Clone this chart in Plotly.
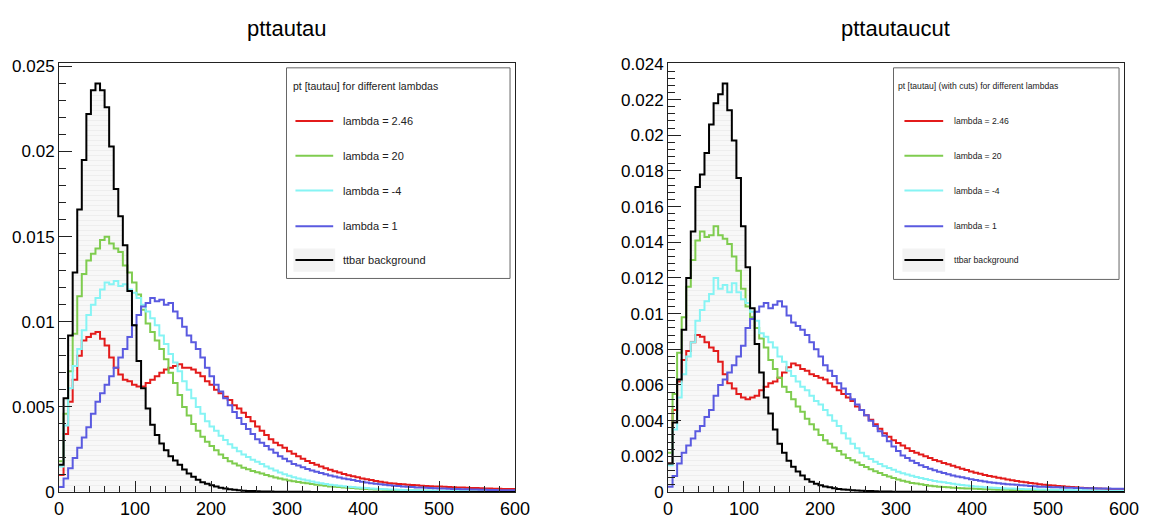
import plotly.graph_objects as go

# ---------------- data ----------------
bin_edges = list(range(0, 601, 6))          # 100 bins of 6 GeV, 0..600
x_tick_vals = [0, 100, 200, 300, 400, 500, 600]
panel_titles = ["pttautau", "pttautaucut"]
legend_headers = ["pt [tautau] for different lambdas",
                  "pt [tautau] (with cuts) for different lambdas"]
series_names = ["lambda = 2.46", "lambda = 20", "lambda = -4", "lambda = 1", "ttbar background"]
series_colors = ["#e31b1b", "#7fcc4f", "#86f4f4", "#5a5ae0", "#000000"]

left_lambda_246 = [
    1.0e-3, 3.4e-3, 5.3e-3, 6.6e-3, 8.0e-3, 8.9e-3, 9.1e-3, 9.3e-3, 9.4e-3, 9.0e-3,
    8.6e-3, 7.9e-3, 7.3e-3, 6.9e-3, 6.6e-3, 6.5e-3, 6.3e-3, 6.2e-3, 6.2e-3, 6.4e-3,
    6.6e-3, 6.8e-3, 7.0e-3, 7.2e-3, 7.3e-3, 7.4e-3, 7.5e-3, 7.3e-3, 7.3e-3, 7.2e-3,
    7.0e-3, 6.8e-3, 6.5e-3, 6.3e-3, 6.0e-3, 5.8e-3, 5.6e-3, 5.4e-3, 5.1e-3, 4.9e-3,
    4.65e-3, 4.4e-3, 4.15e-3, 3.85e-3, 3.6e-3, 3.35e-3, 3.1e-3, 2.9e-3, 2.75e-3, 2.6e-3,
    2.4e-3, 2.25e-3, 2.1e-3, 1.95e-3, 1.82e-3, 1.7e-3, 1.6e-3, 1.5e-3, 1.4e-3, 1.3e-3,
    1.22e-3, 1.14e-3, 1.06e-3, 0.98e-3, 0.92e-3, 0.86e-3, 0.8e-3, 0.75e-3, 0.7e-3, 0.65e-3,
    0.6e-3, 0.56e-3, 0.52e-3, 0.5e-3, 0.47e-3, 0.45e-3, 0.43e-3, 0.41e-3, 0.39e-3, 0.37e-3,
    0.35e-3, 0.34e-3, 0.33e-3, 0.32e-3, 0.31e-3, 0.3e-3, 0.28e-3, 0.27e-3, 0.26e-3, 0.25e-3,
    0.24e-3, 0.23e-3, 0.22e-3, 0.21e-3, 0.2e-3, 0.19e-3, 0.185e-3, 0.18e-3, 0.175e-3, 0.17e-3,
]
left_lambda_20 = [
    1.8e-3, 4.6e-3, 7.1e-3, 9.3e-3, 11.5e-3, 12.8e-3, 13.6e-3, 14.0e-3, 14.3e-3, 14.8e-3,
    15.0e-3, 14.6e-3, 14.3e-3, 14.1e-3, 13.3e-3, 12.9e-3, 12.3e-3, 11.6e-3, 10.7e-3, 9.9e-3,
    9.4e-3, 8.9e-3, 8.4e-3, 7.8e-3, 7.0e-3, 6.4e-3, 5.7e-3, 5.0e-3, 4.5e-3, 4.0e-3,
    3.6e-3, 3.25e-3, 2.95e-3, 2.7e-3, 2.45e-3, 2.2e-3, 2.0e-3, 1.8e-3, 1.68e-3, 1.55e-3,
    1.43e-3, 1.33e-3, 1.23e-3, 1.16e-3, 1.08e-3, 1.0e-3, 0.92e-3, 0.85e-3, 0.79e-3, 0.73e-3,
    0.67e-3, 0.63e-3, 0.59e-3, 0.55e-3, 0.51e-3, 0.47e-3, 0.43e-3, 0.4e-3, 0.36e-3, 0.33e-3,
    0.31e-3, 0.29e-3, 0.27e-3, 0.25e-3, 0.23e-3, 0.21e-3, 0.19e-3, 0.17e-3, 0.16e-3, 0.15e-3,
    0.14e-3, 0.13e-3, 0.12e-3, 0.11e-3, 0.105e-3, 0.1e-3, 0.095e-3, 0.09e-3, 0.085e-3, 0.08e-3,
    0.075e-3, 0.07e-3, 0.065e-3, 0.06e-3, 0.057e-3, 0.054e-3, 0.05e-3, 0.047e-3, 0.044e-3, 0.041e-3,
    0.039e-3, 0.037e-3, 0.035e-3, 0.033e-3, 0.031e-3, 0.03e-3, 0.028e-3, 0.027e-3, 0.025e-3, 0.024e-3,
]
left_lambda_m4 = [
    1.5e-3, 3.9e-3, 6.1e-3, 7.4e-3, 8.4e-3, 9.5e-3, 10.4e-3, 11.0e-3, 11.4e-3, 11.9e-3,
    12.3e-3, 12.2e-3, 12.4e-3, 12.1e-3, 12.2e-3, 11.9e-3, 11.7e-3, 11.4e-3, 11.0e-3, 10.6e-3,
    10.2e-3, 9.8e-3, 9.2e-3, 8.7e-3, 8.1e-3, 7.6e-3, 7.1e-3, 6.5e-3, 6.0e-3, 5.5e-3,
    5.0e-3, 4.6e-3, 4.15e-3, 3.85e-3, 3.6e-3, 3.3e-3, 3.05e-3, 2.8e-3, 2.6e-3, 2.4e-3,
    2.2e-3, 2.05e-3, 1.9e-3, 1.78e-3, 1.65e-3, 1.5e-3, 1.38e-3, 1.27e-3, 1.15e-3, 1.05e-3,
    0.95e-3, 0.87e-3, 0.8e-3, 0.73e-3, 0.67e-3, 0.61e-3, 0.56e-3, 0.52e-3, 0.47e-3, 0.43e-3,
    0.4e-3, 0.37e-3, 0.34e-3, 0.31e-3, 0.29e-3, 0.27e-3, 0.25e-3, 0.23e-3, 0.21e-3, 0.195e-3,
    0.18e-3, 0.165e-3, 0.15e-3, 0.14e-3, 0.13e-3, 0.12e-3, 0.11e-3, 0.105e-3, 0.1e-3, 0.095e-3,
    0.09e-3, 0.085e-3, 0.08e-3, 0.075e-3, 0.07e-3, 0.066e-3, 0.062e-3, 0.058e-3, 0.055e-3, 0.052e-3,
    0.049e-3, 0.046e-3, 0.044e-3, 0.041e-3, 0.039e-3, 0.037e-3, 0.035e-3, 0.033e-3, 0.031e-3, 0.03e-3,
]
left_lambda_1 = [
    0.3e-3, 0.8e-3, 1.4e-3, 2.0e-3, 2.6e-3, 3.2e-3, 3.8e-3, 4.6e-3, 5.3e-3, 5.8e-3,
    6.3e-3, 6.8e-3, 7.3e-3, 7.9e-3, 8.4e-3, 9.1e-3, 9.8e-3, 10.4e-3, 10.9e-3, 11.1e-3,
    11.4e-3, 11.2e-3, 11.3e-3, 11.0e-3, 11.1e-3, 10.6e-3, 10.2e-3, 9.7e-3, 9.2e-3, 8.8e-3,
    8.4e-3, 7.9e-3, 7.3e-3, 6.8e-3, 6.3e-3, 5.9e-3, 5.5e-3, 5.1e-3, 4.7e-3, 4.35e-3,
    4.0e-3, 3.7e-3, 3.4e-3, 3.1e-3, 2.9e-3, 2.7e-3, 2.5e-3, 2.3e-3, 2.1e-3, 1.95e-3,
    1.8e-3, 1.65e-3, 1.55e-3, 1.45e-3, 1.35e-3, 1.27e-3, 1.19e-3, 1.11e-3, 1.04e-3, 0.97e-3,
    0.91e-3, 0.85e-3, 0.8e-3, 0.75e-3, 0.7e-3, 0.65e-3, 0.6e-3, 0.56e-3, 0.52e-3, 0.48e-3,
    0.45e-3, 0.42e-3, 0.39e-3, 0.37e-3, 0.35e-3, 0.33e-3, 0.31e-3, 0.29e-3, 0.27e-3, 0.26e-3,
    0.245e-3, 0.23e-3, 0.22e-3, 0.21e-3, 0.2e-3, 0.19e-3, 0.18e-3, 0.17e-3, 0.16e-3, 0.155e-3,
    0.15e-3, 0.14e-3, 0.135e-3, 0.13e-3, 0.12e-3, 0.115e-3, 0.11e-3, 0.105e-3, 0.1e-3, 0.1e-3,
]
left_ttbar = [
    1.6e-3, 5.5e-3, 9.2e-3, 12.9e-3, 16.6e-3, 19.5e-3, 22.2e-3, 23.6e-3, 24.0e-3, 23.6e-3,
    22.6e-3, 20.3e-3, 17.8e-3, 16.2e-3, 14.5e-3, 11.8e-3, 9.8e-3, 7.7e-3, 6.1e-3, 4.9e-3,
    3.95e-3, 3.35e-3, 2.85e-3, 2.45e-3, 2.1e-3, 1.85e-3, 1.6e-3, 1.32e-3, 1.08e-3, 0.9e-3,
    0.72e-3, 0.58e-3, 0.48e-3, 0.4e-3, 0.32e-3, 0.25e-3, 0.2e-3, 0.16e-3, 0.13e-3, 0.1e-3,
    0.08e-3, 0.065e-3, 0.052e-3, 0.043e-3, 0.036e-3, 0.03e-3, 0.025e-3, 0.021e-3, 0.018e-3, 0.015e-3,
    0.013e-3, 0.012e-3, 0.01e-3, 0.009e-3, 0.008e-3, 0.007e-3, 0.007e-3, 0.006e-3, 0.005e-3, 0.005e-3,
    0.004e-3, 0.004e-3, 0.004e-3, 0.003e-3, 0.003e-3, 0.003e-3, 0.003e-3, 0.002e-3, 0.002e-3, 0.002e-3,
    0.002e-3, 0.002e-3, 0.002e-3, 0.001e-3, 0.001e-3, 0.001e-3, 0.001e-3, 0.001e-3, 0.001e-3, 0.001e-3,
    0.001e-3, 0.001e-3, 0.001e-3, 0.001e-3, 0.001e-3, 0.0, 0.0, 0.0, 0.0, 0.0,
    0.0, 0.0, 0.0, 0.0, 0.0, 0.0, 0.0, 0.0, 0.0, 0.0,
]

right_lambda_246 = [
    1.6e-3, 4.6e-3, 6.2e-3, 7.4e-3, 7.9e-3, 8.4e-3, 8.8e-3, 8.7e-3, 8.4e-3, 8.1e-3,
    7.9e-3, 7.3e-3, 6.6e-3, 6.1e-3, 5.8e-3, 5.5e-3, 5.3e-3, 5.2e-3, 5.3e-3, 5.4e-3,
    5.7e-3, 5.9e-3, 6.1e-3, 6.2e-3, 6.4e-3, 6.7e-3, 7.0e-3, 7.2e-3, 7.1e-3, 6.9e-3,
    6.8e-3, 6.6e-3, 6.5e-3, 6.4e-3, 6.3e-3, 6.1e-3, 5.9e-3, 5.7e-3, 5.5e-3, 5.3e-3,
    5.1e-3, 4.8e-3, 4.6e-3, 4.3e-3, 4.05e-3, 3.8e-3, 3.55e-3, 3.3e-3, 3.1e-3, 2.9e-3,
    2.75e-3, 2.6e-3, 2.45e-3, 2.3e-3, 2.2e-3, 2.1e-3, 2.0e-3, 1.9e-3, 1.8e-3, 1.72e-3,
    1.63e-3, 1.55e-3, 1.47e-3, 1.39e-3, 1.31e-3, 1.23e-3, 1.15e-3, 1.08e-3, 1.02e-3, 0.96e-3,
    0.9e-3, 0.85e-3, 0.8e-3, 0.75e-3, 0.7e-3, 0.66e-3, 0.62e-3, 0.58e-3, 0.54e-3, 0.5e-3,
    0.47e-3, 0.44e-3, 0.41e-3, 0.38e-3, 0.36e-3, 0.34e-3, 0.32e-3, 0.3e-3, 0.28e-3, 0.26e-3,
    0.24e-3, 0.22e-3, 0.21e-3, 0.2e-3, 0.19e-3, 0.18e-3, 0.17e-3, 0.16e-3, 0.15e-3, 0.14e-3,
]
right_lambda_20 = [
    2.2e-3, 5.5e-3, 7.8e-3, 9.8e-3, 11.5e-3, 13.0e-3, 14.1e-3, 14.6e-3, 14.3e-3, 14.4e-3,
    14.9e-3, 14.4e-3, 14.2e-3, 13.9e-3, 13.2e-3, 12.4e-3, 11.4e-3, 10.4e-3, 9.8e-3, 9.2e-3,
    8.6e-3, 8.1e-3, 7.4e-3, 6.9e-3, 6.4e-3, 5.9e-3, 5.6e-3, 5.2e-3, 4.8e-3, 4.5e-3,
    4.1e-3, 3.8e-3, 3.5e-3, 3.2e-3, 2.9e-3, 2.7e-3, 2.5e-3, 2.3e-3, 2.1e-3, 1.9e-3,
    1.78e-3, 1.65e-3, 1.52e-3, 1.4e-3, 1.28e-3, 1.17e-3, 1.06e-3, 0.96e-3, 0.87e-3, 0.78e-3,
    0.7e-3, 0.63e-3, 0.57e-3, 0.51e-3, 0.47e-3, 0.43e-3, 0.39e-3, 0.35e-3, 0.32e-3, 0.3e-3,
    0.28e-3, 0.26e-3, 0.24e-3, 0.23e-3, 0.21e-3, 0.2e-3, 0.19e-3, 0.18e-3, 0.17e-3, 0.16e-3,
    0.15e-3, 0.14e-3, 0.13e-3, 0.125e-3, 0.12e-3, 0.115e-3, 0.11e-3, 0.105e-3, 0.1e-3, 0.095e-3,
    0.09e-3, 0.087e-3, 0.084e-3, 0.08e-3, 0.077e-3, 0.074e-3, 0.07e-3, 0.067e-3, 0.064e-3, 0.061e-3,
    0.058e-3, 0.055e-3, 0.052e-3, 0.05e-3, 0.048e-3, 0.046e-3, 0.044e-3, 0.042e-3, 0.04e-3, 0.038e-3,
]
right_lambda_m4 = [
    1.5e-3, 3.5e-3, 5.3e-3, 6.6e-3, 7.6e-3, 8.4e-3, 9.6e-3, 10.2e-3, 10.7e-3, 11.1e-3,
    12.0e-3, 11.4e-3, 11.6e-3, 11.2e-3, 11.7e-3, 11.2e-3, 10.8e-3, 10.6e-3, 10.1e-3, 9.6e-3,
    8.9e-3, 8.7e-3, 8.4e-3, 8.1e-3, 7.6e-3, 7.3e-3, 6.8e-3, 6.5e-3, 6.2e-3, 5.9e-3,
    5.7e-3, 5.4e-3, 5.1e-3, 4.9e-3, 4.6e-3, 4.3e-3, 4.0e-3, 3.7e-3, 3.3e-3, 3.0e-3,
    2.7e-3, 2.45e-3, 2.2e-3, 2.0e-3, 1.85e-3, 1.7e-3, 1.57e-3, 1.45e-3, 1.35e-3, 1.25e-3,
    1.14e-3, 1.05e-3, 0.98e-3, 0.91e-3, 0.84e-3, 0.78e-3, 0.73e-3, 0.67e-3, 0.62e-3, 0.58e-3,
    0.54e-3, 0.5e-3, 0.46e-3, 0.42e-3, 0.39e-3, 0.36e-3, 0.33e-3, 0.31e-3, 0.29e-3, 0.27e-3,
    0.25e-3, 0.24e-3, 0.22e-3, 0.21e-3, 0.2e-3, 0.19e-3, 0.18e-3, 0.17e-3, 0.16e-3, 0.155e-3,
    0.15e-3, 0.14e-3, 0.135e-3, 0.13e-3, 0.125e-3, 0.12e-3, 0.115e-3, 0.11e-3, 0.106e-3, 0.102e-3,
    0.098e-3, 0.095e-3, 0.09e-3, 0.087e-3, 0.084e-3, 0.08e-3, 0.077e-3, 0.074e-3, 0.072e-3, 0.07e-3,
]
right_lambda_1 = [
    0.3e-3, 0.9e-3, 1.6e-3, 2.2e-3, 2.6e-3, 3.0e-3, 3.4e-3, 3.7e-3, 4.2e-3, 4.6e-3,
    5.4e-3, 6.0e-3, 6.3e-3, 6.7e-3, 7.1e-3, 7.6e-3, 8.2e-3, 9.2e-3, 9.7e-3, 10.1e-3,
    10.4e-3, 10.6e-3, 10.3e-3, 10.5e-3, 10.7e-3, 10.4e-3, 9.9e-3, 9.5e-3, 9.3e-3, 9.1e-3,
    8.8e-3, 8.4e-3, 8.0e-3, 7.6e-3, 7.1e-3, 6.8e-3, 6.5e-3, 6.1e-3, 5.8e-3, 5.5e-3,
    5.2e-3, 4.9e-3, 4.6e-3, 4.3e-3, 4.0e-3, 3.7e-3, 3.4e-3, 3.15e-3, 2.85e-3, 2.55e-3,
    2.3e-3, 2.05e-3, 1.9e-3, 1.75e-3, 1.62e-3, 1.5e-3, 1.4e-3, 1.3e-3, 1.22e-3, 1.14e-3,
    1.06e-3, 0.99e-3, 0.93e-3, 0.87e-3, 0.82e-3, 0.77e-3, 0.72e-3, 0.67e-3, 0.63e-3, 0.59e-3,
    0.55e-3, 0.52e-3, 0.49e-3, 0.46e-3, 0.44e-3, 0.42e-3, 0.4e-3, 0.38e-3, 0.36e-3, 0.34e-3,
    0.32e-3, 0.3e-3, 0.29e-3, 0.28e-3, 0.27e-3, 0.26e-3, 0.25e-3, 0.24e-3, 0.235e-3, 0.23e-3,
    0.22e-3, 0.215e-3, 0.21e-3, 0.205e-3, 0.2e-3, 0.195e-3, 0.19e-3, 0.185e-3, 0.18e-3, 0.18e-3,
]
right_ttbar = [
    1.6e-3, 3.9e-3, 6.3e-3, 9.1e-3, 12.0e-3, 14.6e-3, 17.1e-3, 17.8e-3, 19.0e-3, 20.6e-3,
    21.8e-3, 22.3e-3, 22.9e-3, 21.4e-3, 19.7e-3, 17.6e-3, 14.9e-3, 12.6e-3, 10.3e-3, 8.3e-3,
    6.7e-3, 5.3e-3, 4.4e-3, 3.5e-3, 2.7e-3, 2.2e-3, 1.75e-3, 1.42e-3, 1.15e-3, 0.92e-3,
    0.72e-3, 0.57e-3, 0.46e-3, 0.38e-3, 0.31e-3, 0.26e-3, 0.21e-3, 0.17e-3, 0.14e-3, 0.12e-3,
    0.1e-3, 0.085e-3, 0.07e-3, 0.06e-3, 0.05e-3, 0.042e-3, 0.035e-3, 0.03e-3, 0.025e-3, 0.021e-3,
    0.018e-3, 0.015e-3, 0.013e-3, 0.011e-3, 0.01e-3, 0.009e-3, 0.008e-3, 0.007e-3, 0.006e-3, 0.005e-3,
    0.005e-3, 0.004e-3, 0.004e-3, 0.003e-3, 0.003e-3, 0.003e-3, 0.002e-3, 0.002e-3, 0.002e-3, 0.002e-3,
    0.002e-3, 0.001e-3, 0.001e-3, 0.001e-3, 0.001e-3, 0.001e-3, 0.001e-3, 0.001e-3, 0.001e-3, 0.001e-3,
    0.0, 0.0, 0.0, 0.0, 0.0, 0.0, 0.0, 0.0, 0.0, 0.0,
    0.0, 0.0, 0.0, 0.0, 0.0, 0.0, 0.0, 0.0, 0.0, 0.0,
]

panels = [
    dict(series=[left_lambda_246, left_lambda_20, left_lambda_m4, left_lambda_1, left_ttbar],
         ymax=0.0252, dtick=0.005, minor=0.001, xa="x", ya="y"),
    dict(series=[right_lambda_246, right_lambda_20, right_lambda_m4, right_lambda_1, right_ttbar],
         ymax=0.02405, dtick=0.002, minor=0.0004, xa="x2", ya="y2"),
]

# ---------------- layout geometry (pixels) ----------------
W, H = 1151, 531
ML, MR, MT, MB = 59, 20, 63, 24
PW, PH = W - ML - MR, H - MT - MB
panel_px = [(59, 518), (672, 1131)]


def px(xp):
    return (xp - ML) / PW


def py(yp):
    return (H - MB - yp) / PH


def step(vals):
    return bin_edges, list(vals) + [vals[-1]]


fig = go.Figure()

for p in panels:
    ttx, tty = step(p["series"][4])
    fig.add_trace(go.Scatter(
        x=ttx, y=tty, mode="lines", line=dict(width=0, shape="hv"),
        fill="tozeroy", fillcolor="#f5f5f5",
        fillpattern=dict(shape="-", fgcolor="#e3e3e3", bgcolor="#f8f8f8", size=5, solidity=0.2),
        xaxis=p["xa"], yaxis=p["ya"], showlegend=False, hoverinfo="skip"))
    for vals, name, col in zip(p["series"], series_names, series_colors):
        sx, sy = step(vals)
        fig.add_trace(go.Scatter(
            x=sx, y=sy, mode="lines", name=name,
            line=dict(color=col, width=2, shape="hv"),
            xaxis=p["xa"], yaxis=p["ya"], showlegend=False))

axis_common = dict(showgrid=False, zeroline=False, showline=True, linecolor="#222222",
                   linewidth=1, mirror=True, ticks="inside", tickcolor="#222222",
                   tickwidth=1)

fig.update_layout(
    width=W, height=H,
    margin=dict(l=ML, r=MR, t=MT, b=MB),
    plot_bgcolor="white", paper_bgcolor="white",
    font=dict(family="Liberation Sans, Arial, sans-serif", color="black"),
    showlegend=False,
    xaxis=dict(domain=[px(59), px(518)], range=[0, 600], tickvals=x_tick_vals,
               ticklen=11, minor=dict(dtick=20, ticklen=6, ticks="inside", tickcolor="#222222"),
               tickfont=dict(size=18), anchor="y", ticklabeloverflow="allow", **axis_common),
    yaxis=dict(domain=[0, 1], range=[0, panels[0]["ymax"]], dtick=panels[0]["dtick"],
               ticklen=13, minor=dict(dtick=panels[0]["minor"], ticklen=7, ticks="inside",
                                      tickcolor="#222222"),
               tickfont=dict(size=17), anchor="x", **axis_common),
    xaxis2=dict(domain=[px(672), px(1131)], range=[0, 600], tickvals=x_tick_vals,
                ticklen=11, minor=dict(dtick=20, ticklen=6, ticks="inside", tickcolor="#222222"),
                tickfont=dict(size=18), anchor="y2", ticklabeloverflow="allow", **axis_common),
    yaxis2=dict(domain=[0, 1], range=[0, panels[1]["ymax"]], dtick=panels[1]["dtick"],
                ticklen=13, minor=dict(dtick=panels[1]["minor"], ticklen=7, ticks="inside",
                                       tickcolor="#222222"),
                tickfont=dict(size=17), anchor="x2", **axis_common),
)

shapes = []
annotations = []

# titles
for (x0, x1), title in zip(panel_px, panel_titles):
    annotations.append(dict(x=px((x0 + x1) / 2), y=py(27), xref="paper", yref="paper",
                            text=title, showarrow=False, xanchor="center", yanchor="middle",
                            font=dict(size=22, color="black")))

# legends (drawn like ROOT TLegend boxes)
legend_specs = [
    dict(box=(288, 68, 513, 286), head_x=293, line=(297, 335), text_x=343, head_size=10.5, size=11),
    dict(box=(899, 68, 1126, 287), head_x=902, line=(910, 949), text_x=958, head_size=8.6, size=8.6),
]
entry_y = [123, 159, 195, 232, 267]
for spec, header in zip(legend_specs, legend_headers):
    bx0, by0, bx1, by1 = spec["box"]
    shapes.append(dict(type="rect", xref="paper", yref="paper",
                       x0=px(bx0), x1=px(bx1), y0=py(by1), y1=py(by0),
                       line=dict(color="#666666", width=1), fillcolor="white", layer="above"))
    annotations.append(dict(x=px(spec["head_x"]), y=py(87), xref="paper", yref="paper",
                            text=header, showarrow=False, xanchor="left", yanchor="middle",
                            font=dict(size=spec["head_size"], color="#222222")))
    lx0, lx1 = spec["line"]
    for yy, name, col in zip(entry_y, series_names, series_colors):
        if name == "ttbar background":
            shapes.append(dict(type="rect", xref="paper", yref="paper",
                               x0=px(lx0 - 2), x1=px(lx1 + 2), y0=py(yy + 12), y1=py(yy - 12),
                               line=dict(width=0), fillcolor="#f3f3f3", layer="above"))
        shapes.append(dict(type="line", xref="paper", yref="paper",
                           x0=px(lx0), x1=px(lx1), y0=py(yy), y1=py(yy),
                           line=dict(color=col, width=2), layer="above"))
        annotations.append(dict(x=px(spec["text_x"]), y=py(yy), xref="paper", yref="paper",
                                text=name, showarrow=False, xanchor="left", yanchor="middle",
                                font=dict(size=spec["size"], color="#222222")))

fig.update_layout(shapes=shapes, annotations=annotations)
fig.write_html("out.html",
               config={"displayModeBar": False},
               post_script="document.body.style.margin='0';document.body.style.overflow='hidden';")
